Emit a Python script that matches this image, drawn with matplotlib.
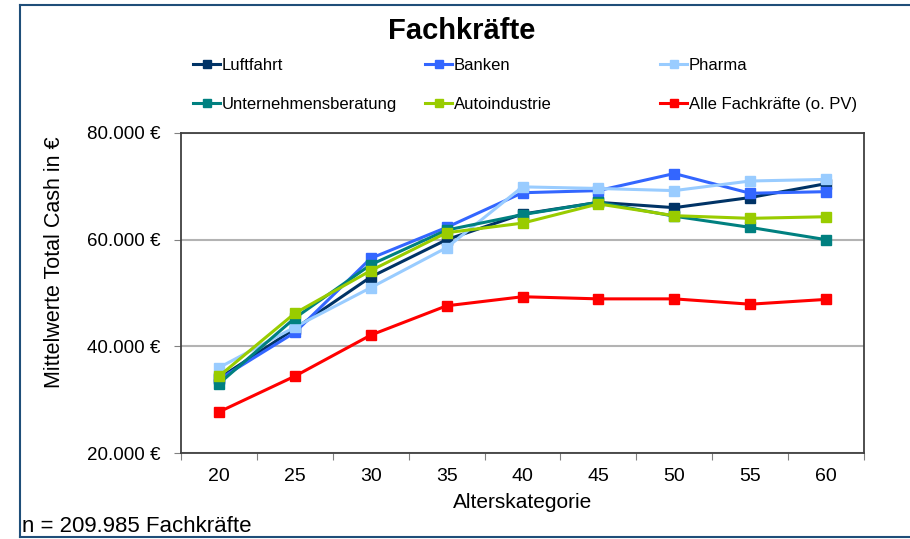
"""
Mittelwerte Total Cash nach Alterskategorie - Fachkräfte.
"""

import numpy as np
import matplotlib.pyplot as plt
from matplotlib.lines import Line2D
from matplotlib.ticker import FuncFormatter

plt.rcParams['font.family'] = ['Liberation Sans', 'DejaVu Sans']

ages = ["20", "25", "30", "35", "40", "45", "50", "55", "60"]

luftfahrt = [34000, 43300, 53000, 60000, 64800, 67000, 66000, 67900, 70500]
banken = [33800, 42600, 56500, 62300, 68800, 69200, 72400, 68700, 69000]
pharma = [36000, 43600, 51000, 58500, 69900, 69600, 69200, 71000, 71300]
unternehmensberatung = [33000, 45300, 55300, 61800, 64700, 67000, 64400, 62300, 60000]
autoindustrie = [34400, 46200, 54200, 61300, 63100, 66700, 64500, 64000, 64300]
alle = [27700, 34400, 42100, 47600, 49300, 48900, 48900, 47900, 48800]

series_names = ["Luftfahrt", "Banken", "Pharma",
                "Unternehmensberatung", "Autoindustrie", "Alle Fachkräfte (o. PV)"]
series_values = [luftfahrt, banken, pharma, unternehmensberatung, autoindustrie, alle]
series_colors = ["#003366", "#3366FF", "#99CCFF", "#008080", "#99CC00", "#FF0000"]


def euro(v, pos):
    return "{:,.0f} €".format(v).replace(",", ".")


def fx(px):
    return px / 910


def fy(py):
    return 1 - py / 539


def draw_chart():
    fig = plt.figure(figsize=(9.1, 5.39), dpi=100)
    ax = fig.add_axes([fx(181), fy(453), fx(864 - 181), (453 - 133) / 539])

    x = np.arange(len(ages))
    for name, vals, col in zip(series_names, series_values, series_colors):
        ax.plot(x, vals, color=col, lw=2.2, marker="s", ms=7.5,
                mec=col, mfc=col, label=name, zorder=3)

    ax.set_xlim(-0.5, len(ages) - 0.5)
    ax.set_ylim(20000, 80000)
    ax.set_yticks([20000, 40000, 60000, 80000])
    ax.yaxis.set_major_formatter(FuncFormatter(euro))
    ax.yaxis.grid(True, color="#b3b3b3", lw=1.5)
    ax.set_axisbelow(True)

    # category labels in the middle, tick marks on the boundaries
    ax.set_xticks(np.arange(-0.5, len(ages)), minor=False)
    ax.set_xticklabels([])
    ax.set_xticks(x, minor=True)
    ax.set_xticklabels(ages, minor=True, fontsize=14)
    ax.tick_params(axis="x", which="minor", length=0, pad=11)
    ax.tick_params(axis="x", which="major", length=5, color="#808080")
    ax.tick_params(axis="y", length=5, color="#808080", labelsize=13.5, pad=10)

    for side in ["left", "bottom", "right", "top"]:
        ax.spines[side].set_color("#404040")
        ax.spines[side].set_linewidth(1.3)

    ax.set_xlabel("Alterskategorie", fontsize=15)
    ax.xaxis.set_label_coords(0.5, -(503 - 453) / 320, transform=ax.transAxes)
    ax.xaxis.label.set_va("center")
    ax.set_ylabel("Mittelwerte Total Cash in €", fontsize=15.5)
    ax.yaxis.set_label_coords(-(181 - 55) / 683, (453 - 262) / 320, transform=ax.transAxes)
    ax.yaxis.label.set_va("center")

    fig.text(fx(462), fy(31), "Fachkräfte", fontsize=21, fontweight="bold",
             ha="center", va="center")

    # legend entries: two rows of three, drawn one by one
    col_x = [193, 425, 660]
    row_y = [64, 103]
    for i, (name, col) in enumerate(zip(series_names, series_colors)):
        x0 = col_x[i % 3]
        y0 = row_y[i // 3]
        fig.add_artist(Line2D([fx(x0), fx(x0 + 27)], [fy(y0), fy(y0)],
                              transform=fig.transFigure, color=col, lw=2.2))
        fig.add_artist(Line2D([fx(x0 + 13.5)], [fy(y0)], transform=fig.transFigure,
                              color=col, marker="s", ms=5.5, mec=col, mfc=col))
        fig.text(fx(x0 + 29), fy(y0), name, fontsize=12, ha="left", va="center_baseline")

    fig.text(fx(22), fy(527), "n = 209.985 Fachkräfte", fontsize=16,
             ha="left", va="center")

    # frame around the whole slide area
    frame_col = "#1F4E79"
    fig.add_artist(Line2D([fx(20), fx(20)], [fy(5), fy(537)],
                          transform=fig.transFigure, color=frame_col, lw=1.5))
    fig.add_artist(Line2D([fx(20), 1], [fy(5), fy(5)],
                          transform=fig.transFigure, color=frame_col, lw=1.5))
    fig.add_artist(Line2D([fx(20), 1], [fy(537), fy(537)],
                          transform=fig.transFigure, color=frame_col, lw=1.5))

    fig.savefig("out.png", dpi=100)


def main():
    draw_chart()


if __name__ == "__main__":
    main()
